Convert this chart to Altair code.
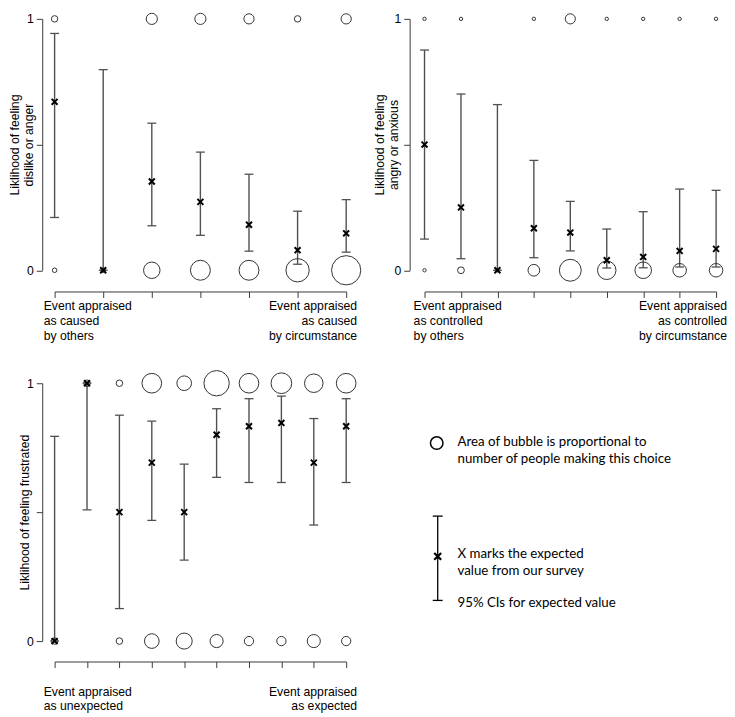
import altair as alt
import pandas as pd

FONT = "Liberation Sans"
LEG_FONT = "Lato"
AXIS_COL = "#3a3a3a"
BAR_COL = "#505050"
CIRC_COL = "#333333"
XPATH = "M-1,-1L1,1M-1,1L1,-1"

# ---- Panel A: dislike or anger vs cause ----
a_mean = [0.670, 0.000, 0.353, 0.272, 0.181, 0.080, 0.147]
a_lo = [0.210, 0.000, 0.177, 0.139, 0.076, 0.024, 0.072]
a_hi = [0.942, 0.798, 0.585, 0.470, 0.382, 0.235, 0.281]
a_yes = [2, 0, 6, 6, 5, 2, 5]
a_no = [1, 1, 13, 19, 19, 26, 41]
a_title = ["Liklihood of feeling", "dislike or anger"]
a_left = ["Event appraised", "as caused", "by others"]
a_right = ["Event appraised", "as caused", "by circumstance"]

# ---- Panel B: angry or anxious vs control ----
b_mean = [0.500, 0.250, 0.000, 0.167, 0.150, 0.040, 0.053, 0.077, 0.085]
b_lo = [0.124, 0.046, 0.000, 0.050, 0.077, 0.009, 0.010, 0.013, 0.013]
b_hi = [0.876, 0.701, 0.659, 0.437, 0.274, 0.164, 0.233, 0.323, 0.318]
b_yes = [1, 1, 0, 1, 9, 1, 1, 1, 1]
b_no = [1, 4, 1, 12, 42, 30, 24, 16, 16]
b_title = ["Liklihood of feeling", "angry or anxious"]
b_left = ["Event appraised", "as controlled", "by others"]
b_right = ["Event appraised", "as controlled", "by circumstance"]

# ---- Panel C: frustrated vs expectedness ----
c_mean = [0.000, 1.000, 0.500, 0.692, 0.500, 0.800, 0.833, 0.846, 0.692, 0.833]
c_lo = [0.000, 0.509, 0.126, 0.468, 0.314, 0.635, 0.615, 0.615, 0.450, 0.615]
c_hi = [0.794, 1.000, 0.876, 0.853, 0.686, 0.901, 0.940, 0.950, 0.863, 0.940]
c_yes = [0, 1, 1, 9, 5, 15, 9, 10, 8, 9]
c_no = [1, 0, 1, 5, 6, 4, 2, 2, 4, 2]
c_title = "Liklihood of feeling frustrated"
c_left = ["Event appraised", "as unexpected"]
c_right = ["Event appraised", "as expected"]

# ---- Key text ----
key_bubble = ["Area of bubble is proportional to", "number of people making this choice"]
key_x = ["X marks the expected", "value from our survey"]
key_ci = "95% CIs for expected value"


def panel(mean, lo, hi, yes, no, size_per_person, title, left_lines, right_lines,
          width, height, y_offset, x_offset, title_x, label_gap):
    n = len(mean)
    cats = list(range(1, n + 1))
    df = pd.DataFrame({"cat": cats, "mean": mean, "lo": lo, "hi": hi})
    bub = pd.DataFrame({"cat": cats * 2, "level": [1] * n + [0] * n, "n": yes + no})
    bub = bub[bub["n"] > 0]
    ends = pd.DataFrame({"cat": [1, n], "txt": [left_lines, right_lines],
                         "side": ["left", "right"]})

    xscale = alt.Scale(domain=[1, n], nice=False, zero=False)
    yscale = alt.Scale(domain=[0, 1], nice=False, zero=False)

    x_axis = alt.Axis(
        values=cats, offset=x_offset, grid=False, labels=False, title="",
        tickSize=6, tickColor=AXIS_COL, domainColor=AXIS_COL, tickWidth=1, domainWidth=1,
    )
    y_axis = alt.Axis(
        values=[0, 0.5, 1], offset=y_offset, title=title, grid=False,
        labelExpr="datum.value == 0 ? '0' : datum.value == 1 ? '1' : ''",
        labelOverlap=False, labelFont=FONT, labelFontSize=12.3, labelColor="black",
        labelPadding=3, tickSize=6, tickColor=AXIS_COL, domainColor=AXIS_COL,
        tickWidth=1, domainWidth=1,
        titleFont=FONT, titleFontSize=12.3, titleFontWeight="normal", titleColor="black",
        titleX=title_x, titleBaseline="top", titleLineHeight=14.5,
    )

    def X():
        return alt.X("cat:Q", scale=xscale, axis=x_axis)

    def Y(field):
        return alt.Y(field, scale=yscale, axis=y_axis)

    rule = alt.Chart(df).mark_rule(color=BAR_COL, strokeWidth=1.4).encode(
        x=X(), y=Y("lo:Q"), y2="hi:Q")
    bubbles = alt.Chart(bub).mark_point(
        shape="circle", filled=False, color=CIRC_COL, strokeWidth=1, opacity=1
    ).encode(
        x=X(), y=Y("level:Q"),
        size=alt.Size("n:Q", scale=alt.Scale(domain=[0, 50], range=[0, 50 * size_per_person]),
                      legend=None),
    )
    cap_lo = alt.Chart(df).mark_tick(orient="horizontal", size=9, thickness=1.3,
                                     color=BAR_COL, opacity=1).encode(x=X(), y=Y("lo:Q"))
    cap_hi = alt.Chart(df).mark_tick(orient="horizontal", size=9, thickness=1.3,
                                     color=BAR_COL, opacity=1).encode(x=X(), y=Y("hi:Q"))
    xs = alt.Chart(df).mark_point(shape=XPATH, size=36, strokeWidth=2, color="black",
                                  filled=False, opacity=1).encode(x=X(), y=Y("mean:Q"))

    lab_base = alt.Chart(ends)
    lab_left = lab_base.transform_filter(alt.datum.side == "left").mark_text(
        align="left", baseline="top", dx=-11, font=FONT, fontSize=12.3,
        lineHeight=14.7, color="black").encode(
        x=X(), y=alt.value(height + label_gap), text="txt:N")
    lab_right = lab_base.transform_filter(alt.datum.side == "right").mark_text(
        align="right", baseline="top", dx=11, font=FONT, fontSize=12.3,
        lineHeight=14.7, color="black").encode(
        x=X(), y=alt.value(height + label_gap), text="txt:N")

    return alt.layer(rule, bubbles, cap_lo, cap_hi, xs, lab_left, lab_right).properties(
        width=width, height=height)


pa = panel(a_mean, a_lo, a_hi, a_yes, a_no, 21.2, a_title, a_left, a_right,
           width=294, height=253.5, y_offset=12.5, x_offset=21.4, title_x=-33.8, label_gap=30.5)
pb = panel(b_mean, b_lo, b_hi, b_yes, b_no, 11.6, b_title, b_left, b_right,
           width=294, height=253.5, y_offset=15, x_offset=21.4, title_x=-36.7, label_gap=30.5)
pc = panel(c_mean, c_lo, c_hi, c_yes, c_no, 43.6, c_title, c_left, c_right,
           width=294, height=260, y_offset=12.5, x_offset=20.6, title_x=-23.7, label_gap=45)

# ---- Key panel ----
one = pd.DataFrame({"k": [0]})
k_circle = alt.Chart(one).mark_point(shape="circle", filled=False, color="black",
                                     strokeWidth=1.5, size=159, opacity=1).encode(
    x=alt.value(12.3), y=alt.value(60.3))
k_text1 = alt.Chart(one).mark_text(align="left", baseline="middle", font=LEG_FONT,
                                   fontSize=13.4, lineHeight=17, color="black").encode(
    x=alt.value(33.3), y=alt.value(59.3), text=alt.value(key_bubble))
k_bar = alt.Chart(one).mark_rule(color="black", strokeWidth=1.3).encode(
    x=alt.value(13.3), y=alt.value(134), y2=alt.value(219))
k_cap1 = alt.Chart(one).mark_rule(color="black", strokeWidth=1.3).encode(
    x=alt.value(8.3), x2=alt.value(18.3), y=alt.value(134))
k_cap2 = alt.Chart(one).mark_rule(color="black", strokeWidth=1.3).encode(
    x=alt.value(8.3), x2=alt.value(18.3), y=alt.value(219))
k_x = alt.Chart(one).mark_point(shape=XPATH, size=49, strokeWidth=2.2, color="black",
                                filled=False, opacity=1).encode(
    x=alt.value(13.3), y=alt.value(174.6))
k_text2 = alt.Chart(one).mark_text(align="left", baseline="middle", font=LEG_FONT,
                                   fontSize=13.4, lineHeight=17, color="black").encode(
    x=alt.value(33.3), y=alt.value(172.3), text=alt.value(key_x))
k_text3 = alt.Chart(one).mark_text(align="left", baseline="middle", font=LEG_FONT,
                                   fontSize=13.4, color="black").encode(
    x=alt.value(33.3), y=alt.value(221.3), text=alt.value(key_ci))
key = alt.layer(k_circle, k_text1, k_bar, k_cap1, k_cap2, k_x, k_text2, k_text3).properties(
    width=294, height=260)

chart = alt.concat(pa, pb, pc, key, columns=2,
                   spacing={"row": 113.4, "column": 79}, bounds="flush").resolve_scale(
    size="independent"
).properties(
    padding=0
).configure_view(strokeWidth=0)

chart.save("out.html", embed_options={"renderer": "svg", "actions": False})
